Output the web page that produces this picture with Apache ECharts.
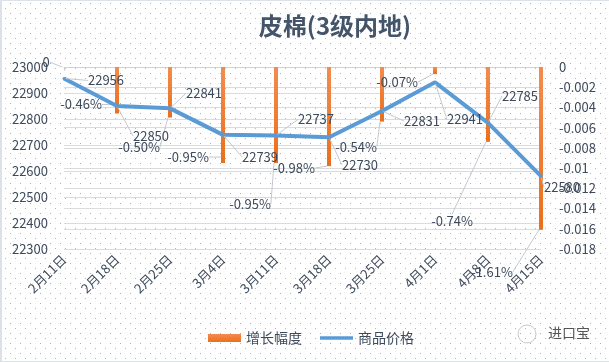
<!DOCTYPE html>
<html>
<head>
<meta charset="utf-8">
<script src="https://cdn.jsdelivr.net/npm/echarts@6/dist/echarts.min.js"></script>
<style>
  html, body { margin: 0; padding: 0; background: #fff; }
  #wrap {
    position: relative; width: 609px; height: 362px; box-sizing: border-box;
    border-left: 2px solid #dde2e8; border-top: 1px solid #dde2e8; border-bottom: 1px solid #dde2e8;
    background-color: #ffffff;
    background-image: url("data:image/svg+xml;utf8,<svg xmlns='http://www.w3.org/2000/svg' width='10' height='10'><rect x='8' y='2' width='1' height='1' fill='%2392d050'/><rect x='3' y='7' width='1' height='1' fill='%23b4b8be'/></svg>");
    background-repeat: repeat;
  }
  #chart { position: absolute; left: -2px; top: -1px; width: 609px; height: 362px; }
</style>
</head>
<body>
<div id="wrap"><div id="chart"></div></div>
<script>
// ---- data ----
const categories = ['2月11日', '2月18日', '2月25日', '3月4日', '3月11日', '3月18日', '3月25日', '4月1日', '4月8日', '4月15日'];
const growth = [0, -0.0046, -0.0050, -0.0095, -0.0095, -0.0098, -0.0054, -0.0007, -0.0074, -0.0161];
const price = [22956, 22850, 22841, 22739, 22737, 22730, 22831, 22941, 22785, 22580];
const leftTicks = { min: 22300, max: 23000, interval: 100 };
const rightTicks = { min: -0.018, max: 0, interval: 0.002 };
const title = '皮棉(3级内地)';
const seriesNames = ['增长幅度', '商品价格'];

// label offsets (px, styling only) relative to bar end / line point
const growthLabelOffsets = [[-18, -5], [-36, -9], [-31, 30], [-35, -6], [-26, 41], [-35, 2], [-26, 25], [-38, 8], [-36, 79], [-49, 42]];
const priceLabelOffsets = [[42, 2], [34, 30], [34, -15], [37, 22], [40, -16], [31, 28], [40, 10], [30, 37], [32, -27], [21, 11]];

const textColor = '#3d4a5c';
const font = '"Noto Sans CJK SC", "Noto Sans", sans-serif';

const chart = echarts.init(document.getElementById('chart'), null, { renderer: 'canvas' });

chart.setOption({
  backgroundColor: 'transparent',
  animation: false,
  textStyle: { fontFamily: font },
  title: {
    text: title,
    left: 330, top: 9, textAlign: 'center',
    textStyle: { fontSize: 24, fontWeight: 'bold', color: '#44546a', fontFamily: font }
  },
  legend: {
    left: 203, top: 326,
    itemWidth: 33, itemHeight: 8, itemGap: 18,
    textStyle: { fontSize: 14, color: textColor, fontFamily: font },
    data: [
      { name: seriesNames[0], icon: 'rect' },
      { name: seriesNames[1], icon: 'path://M0 0H37V4H0Z' }
    ]
  },
  grid: { left: 64, right: 68, top: 67, height: 182, containLabel: false },
  xAxis: {
    type: 'category', data: categories, boundaryGap: false,
    axisLine: { show: true, lineStyle: { color: '#d0d3d8', width: 1 } },
    axisTick: { show: true, length: 4, lineStyle: { color: '#d0d3d8' } },
    axisLabel: { rotate: 45, margin: 8, fontSize: 13, color: textColor, fontFamily: font, interval: 0 },
    splitLine: { show: false }
  },
  yAxis: [
    {
      type: 'value', position: 'left',
      min: leftTicks.min, max: leftTicks.max, interval: leftTicks.interval,
      axisLine: { show: false }, axisTick: { show: false },
      axisLabel: { margin: 16, fontSize: 13, color: textColor, fontFamily: font, formatter: v => String(v) },
      splitLine: { show: true, lineStyle: { color: '#d9dbdf', width: 1 } }
    },
    {
      type: 'value', position: 'right',
      min: rightTicks.min, max: rightTicks.max, interval: rightTicks.interval,
      axisLine: { show: false }, axisTick: { show: false },
      axisLabel: {
        margin: 18, fontSize: 13, color: textColor, fontFamily: font,
        formatter: v => String(parseFloat(v.toFixed(4)))
      },
      splitLine: { show: true, lineStyle: { color: '#d9dbdf', width: 1 } }
    }
  ],
  series: [
    {
      name: seriesNames[0], type: 'bar', yAxisIndex: 1, data: growth,
      barWidth: 4,
      itemStyle: {
        color: new echarts.graphic.LinearGradient(0, 0, 0, 1, [
          { offset: 0, color: '#f28c4e' }, { offset: 1, color: '#eb6f1c' }
        ])
      },
      label: {
        show: true, position: 'inside', fontSize: 13, color: textColor, fontFamily: font,
        formatter: p => p.value === 0 ? '0' : (p.value * 100).toFixed(2) + '%'
      },
      labelLine: { show: true, lineStyle: { color: '#c4c8ce', width: 1 } },
      labelLayout: function (p) {
        const o = growthLabelOffsets[p.dataIndex];
        const cx = p.rect.x + p.rect.width / 2;
        const ey = p.rect.y + p.rect.height;
        return { x: cx + o[0], y: ey + o[1], align: 'center', verticalAlign: 'middle' };
      }
    },
    {
      name: seriesNames[1], type: 'line', yAxisIndex: 0, data: price,
      symbol: 'circle', symbolSize: 3, showSymbol: true,
      lineStyle: { color: '#5b9bd5', width: 4 },
      itemStyle: { color: '#5b9bd5' },
      label: { show: true, position: 'inside', fontSize: 13, color: textColor, fontFamily: font },
      labelLine: { show: true, lineStyle: { color: '#c4c8ce', width: 1 } },
      labelLayout: function (p) {
        const o = priceLabelOffsets[p.dataIndex];
        const cx = p.rect.x + p.rect.width / 2;
        const cy = p.rect.y + p.rect.height / 2;
        return { x: cx + o[0], y: cy + o[1], align: 'center', verticalAlign: 'middle' };
      }
    }
  ],
  graphic: [
    { type: 'circle', shape: { cx: 527, cy: 334, r: 9 }, style: { fill: 'none', stroke: '#c8c8c8', lineWidth: 1 } },
    { type: 'text', left: 548, top: 326, style: { text: '进口宝', fontSize: 14, fill: '#555', fontFamily: font } }
  ]
});
</script>
</body>
</html>
